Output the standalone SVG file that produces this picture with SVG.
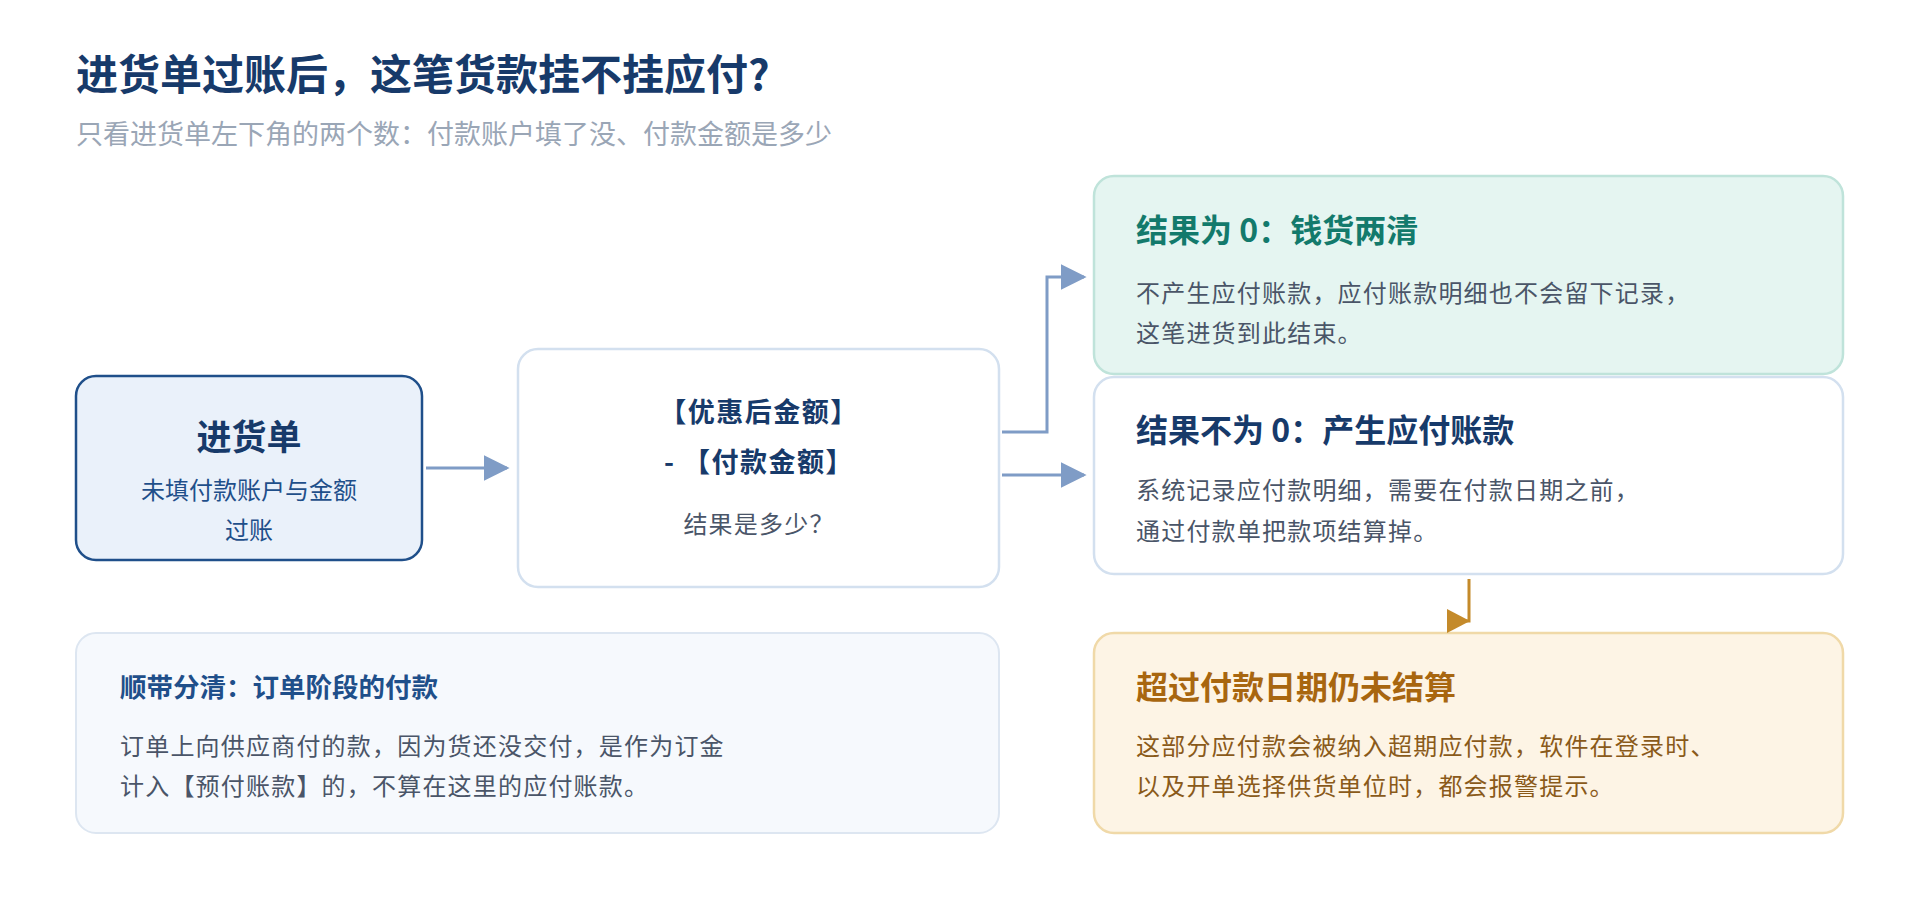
<svg xmlns="http://www.w3.org/2000/svg" width="1920" height="921" viewBox="0 0 1920 921">
<defs>
<style>
text{font-family:"Noto Sans CJK SC","Noto Sans",sans-serif}
.b{fill:#fff;stroke:#d3e0ef;stroke-width:2.5}
.body{font-size:24px;fill:#4a5568;letter-spacing:1.2px}
.h{font-size:32px;font-weight:700}
.conn{fill:none;stroke:#7f9cc6;stroke-width:3}
</style>
<marker id="a2" viewBox="0 0 10 10" refX="9" refY="5" markerWidth="26" markerHeight="26" markerUnits="userSpaceOnUse" orient="auto"><path d="M0,0L10,5L0,10z" fill="#7f9cc6"/></marker>
</defs>
<rect width="1920" height="921" fill="#fff"/>
<text x="76" y="90" font-size="42" font-weight="700" fill="#173a6a">进货单过账后，这笔货款挂不挂应付?</text>
<text x="76" y="144" font-size="27" fill="#9aa6b6">只看进货单左下角的两个数：付款账户填了没、付款金额是多少</text>
<g id="n1"><rect x="76" y="376" width="346" height="184" rx="20" fill="#eaf1fa" stroke="#1f4f8a" stroke-width="2.5"/>
<text x="249" y="450" font-size="35" font-weight="700" fill="#173a6a" text-anchor="middle">进货单</text>
<text x="249" y="499" font-size="24" fill="#1f4f8a" text-anchor="middle">未填付款账户与金额</text>
<text x="249" y="539" font-size="24" fill="#1f4f8a" text-anchor="middle">过账</text></g>
<g id="n2"><rect class="b" x="518" y="349" width="481" height="238" rx="20"/>
<text x="759" y="422" font-size="27" font-weight="700" fill="#173a6a" text-anchor="middle" letter-spacing="1.5">【优惠后金额】</text>
<text x="759" y="472" font-size="27" font-weight="700" fill="#173a6a" text-anchor="middle" letter-spacing="1.5">-  【付款金额】</text>
<text x="759" y="533" class="body" text-anchor="middle">结果是多少？</text></g>
<g id="n3"><rect x="1094" y="176" width="749" height="198" rx="20" fill="#e5f5f1" stroke="#bfe3da" stroke-width="2.5"/>
<text x="1136" y="242" class="h" fill="#137a6c">结果为 0：钱货两清</text>
<text x="1136" y="302" class="body">不产生应付账款，应付账款明细也不会留下记录，</text>
<text x="1136" y="342" class="body">这笔进货到此结束。</text></g>
<g id="n4"><rect class="b" x="1094" y="377" width="749" height="197" rx="20"/>
<text x="1136" y="442" class="h" fill="#173a6a">结果不为 0：产生应付账款</text>
<text x="1136" y="499" class="body">系统记录应付款明细，需要在付款日期之前，</text>
<text x="1136" y="540" class="body">通过付款单把款项结算掉。</text></g>
<g id="n5"><rect x="76" y="633" width="923" height="200" rx="20" fill="#f6f9fd" stroke="#dde6f1" stroke-width="2"/>
<text x="120" y="697" font-size="26.5" font-weight="700" fill="#1f4f8a">顺带分清：订单阶段的付款</text>
<text x="120" y="755" class="body">订单上向供应商付的款，因为货还没交付，是作为订金</text>
<text x="120" y="795" class="body">计入【预付账款】的，不算在这里的应付账款。</text></g>
<g id="n6"><rect x="1094" y="633" width="749" height="200" rx="20" fill="#fdf4e5" stroke="#f0d9a8" stroke-width="2.5"/>
<text x="1136" y="699" class="h" fill="#a8660f">超过付款日期仍未结算</text>
<text x="1136" y="755" class="body" style="fill:#8a5a1a">这部分应付款会被纳入超期应付款，软件在登录时、</text>
<text x="1136" y="795" class="body" style="fill:#8a5a1a">以及开单选择供货单位时，都会报警提示。</text></g>
<g id="connectors">
<path class="conn" d="M426,468H507" marker-end="url(#a2)"/>
<path class="conn" d="M1002,432H1047V277H1084" marker-end="url(#a2)"/>
<path class="conn" d="M1002,475H1084" marker-end="url(#a2)"/>
<path d="M1469,579V621H1458" fill="none" stroke="#c48a2a" stroke-width="3"/>
<polygon points="1447,609 1470,621 1447,633" fill="#c48a2a"/>
</g>
</svg>
